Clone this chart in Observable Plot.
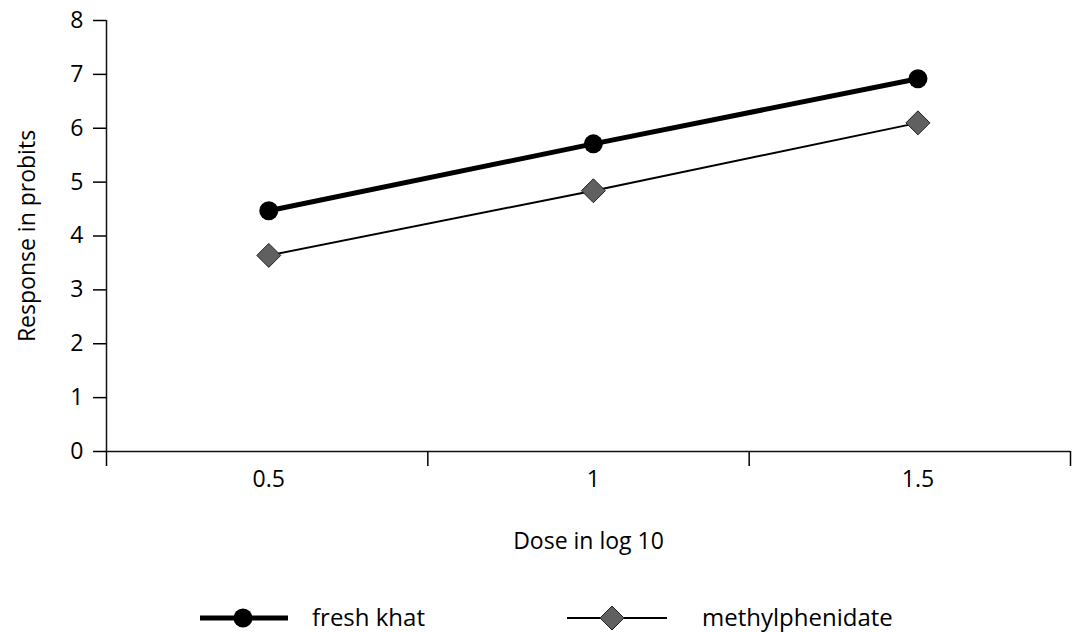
<!DOCTYPE html>
<html><head><meta charset="utf-8">
<script src="https://cdn.jsdelivr.net/npm/d3@7"></script>
<script src="https://cdn.jsdelivr.net/npm/@observablehq/plot@0.6"></script>
<style>
body{margin:0;background:#fff;font-family:"Open Sans",sans-serif;color:#000;}
#chart g[aria-label$="tick label"], #chart g[aria-label$="tick label"] text{font-size:23px;}
#legend{position:relative;height:52px;width:1075px;}
#legend .sw{position:absolute;top:28px;}
#legend .lab{position:absolute;top:22px;font-size:24px;line-height:30px;white-space:nowrap;}
</style></head><body>
<div id="chart"></div>
<div id="legend"></div>
<script>
const doses = [0.5, 1, 1.5];
const freshKhat = [4.47, 5.71, 6.92];
const methylphenidate = [3.64, 4.84, 6.10];
const yTicks = [0, 1, 2, 3, 4, 5, 6, 7, 8];
const xTickLabels = ["0.5", "1", "1.5"];
const xDomain = [0.25, 1.735];
const xCategoryTicks = [0.25, 0.745, 1.24, 1.735];
const seriesNames = ["fresh khat", "methylphenidate"];

const khatData = doses.map((d, i) => ({dose: d, value: freshKhat[i], series: seriesNames[0]}));
const methData = doses.map((d, i) => ({dose: d, value: methylphenidate[i], series: seriesNames[1]}));

const plot = Plot.plot({
  width: 1075, height: 580,
  marginLeft: 106, marginRight: 5, marginTop: 20, marginBottom: 129,
  style: {fontFamily: '"Open Sans", sans-serif', fontSize: "23px", color: "#000", background: "#fff"},
  x: {domain: xDomain},
  y: {domain: [0, 8]},
  marks: [
    Plot.axisY({ticks: yTicks, tickSize: 13, tickPadding: 10, tickFormat: d => String(d),
      label: "Response in probits", labelArrow: "none", labelAnchor: "center", labelOffset: 88, strokeWidth: 1.5, fontSize: 23}),
    Plot.axisX({ticks: xCategoryTicks, tickSize: 15, tickFormat: () => "", label: null, strokeWidth: 1.5}),
    Plot.axisX({ticks: doses, tickSize: 0, tickPadding: 19, tickFormat: (d) => xTickLabels[doses.indexOf(d)],
      label: "Dose in log 10", labelArrow: "none", labelAnchor: "center", labelOffset: 97, fontSize: 23}),
    Plot.ruleY([0], {strokeWidth: 1.5, stroke: "#111"}),
    Plot.ruleX([xDomain[0]], {strokeWidth: 1.5, stroke: "#111"}),
    Plot.line(khatData, {x: "dose", y: "value", stroke: "#000", strokeWidth: 5}),
    Plot.line(methData, {x: "dose", y: "value", stroke: "#000", strokeWidth: 2}),
    Plot.dot(khatData, {x: "dose", y: "value", r: 9.5, fill: "#000"}),
    Plot.dot(methData, {x: "dose", y: "value", symbol: "diamond2", r: 10.8, fill: "#606060", stroke: "#222", strokeWidth: 1})
  ]
});
document.getElementById("chart").appendChild(plot);

// legend
const legend = d3.select("#legend");
const s1 = legend.append("svg").attr("class", "sw").attr("width", 88).attr("height", 20).style("left", "200px");
s1.append("line").attr("x1", 0).attr("x2", 88).attr("y1", 10).attr("y2", 10).attr("stroke", "#000").attr("stroke-width", 5);
s1.append("circle").attr("cx", 43).attr("cy", 10).attr("r", 9.5).attr("fill", "#000");
legend.append("span").attr("class", "lab").style("left", "312px").text(seriesNames[0]);

const s2 = legend.append("svg").attr("class", "sw").attr("width", 100).attr("height", 26).style("left", "567px").style("top", "25px");
s2.append("line").attr("x1", 0).attr("x2", 100).attr("y1", 13).attr("y2", 13).attr("stroke", "#000").attr("stroke-width", 2);
s2.append("path").attr("d", d3.symbol(d3.symbolDiamond2, Math.PI * 10.8 * 10.8)()).attr("transform", "translate(45,13)")
  .attr("fill", "#606060").attr("stroke", "#222").attr("stroke-width", 1);
legend.append("span").attr("class", "lab").style("left", "702px").text(seriesNames[1]);
</script>
</body></html>
